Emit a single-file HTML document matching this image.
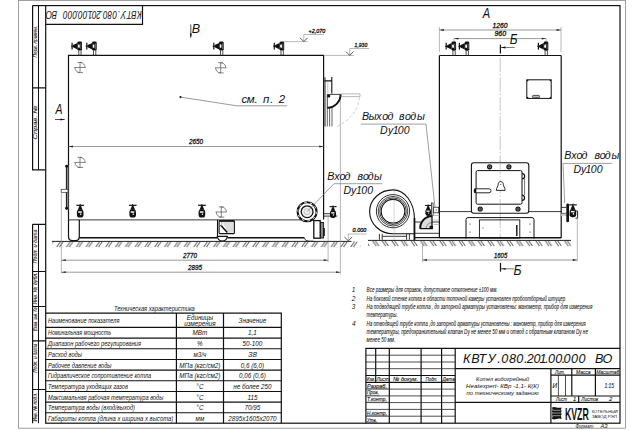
<!DOCTYPE html>
<html><head><meta charset="utf-8"><title>KVTU drawing</title>
<style>
html,body{margin:0;padding:0;background:#fff;width:644px;height:430px;overflow:hidden}
svg{display:block}
text{font-family:"Liberation Sans",sans-serif;font-style:italic;fill:#111}
.k{stroke:#111;stroke-width:1.2;fill:none}
.m{stroke:#222;stroke-width:0.9;fill:none}
.n{stroke:#555;stroke-width:0.6;fill:none}
.g{stroke:#888;stroke-width:0.6;fill:none}
.b{stroke:#111;stroke-width:0.3}
</style></head><body>
<svg width="644" height="430" viewBox="0 0 644 430">
<defs>
  <pattern id="hatch" width="9.8" height="5.8" patternUnits="userSpaceOnUse" x="6" y="241.4">
    <path d="M1.6,5.8 L5.6,0 M4.3,5.8 L8.3,0" stroke="#222" stroke-width="0.85"/>
  </pattern>
  <pattern id="hatchR" width="9.6" height="5.8" patternUnits="userSpaceOnUse" x="6" y="240.4">
    <path d="M1.5,0 L5.5,5.8 M4.2,0 L8.2,5.8" stroke="#222" stroke-width="0.85"/>
  </pattern>
  <g id="vt">
    <path d="M-1.1,-5 V0 M1.2,-5 V0" stroke="#222" stroke-width="0.8"/>
    <path d="M-2.5,-12.8 Q-2.5,-13.9 -1,-13.9 H0.8 Q2.1,-13.9 2.1,-12.6 V-6.2 Q2.1,-4.8 0.7,-4.8 H-1.1 Q-2.5,-4.8 -2.5,-6.2 Z" fill="#111"/>
    <path d="M-1.7,-11.3 Q-0.4,-9.3 -1.7,-7.3 Q-2.1,-9.3 -1.7,-11.3 Z" fill="#fff"/>
    <ellipse cx="-0.9" cy="-9.3" rx="0.8" ry="1.9" fill="#fff"/>
    <path d="M0.9,-12 V-6.4" stroke="#888" stroke-width="0.7"/>
    <path d="M-2.4,-12.4 L-6.9,-10.3 L-6.9,-8.1 L-2.4,-6 Z" fill="#111"/>
    <path d="M-8.9,-9.2 H-3" stroke="#111" stroke-width="1"/>
    <path d="M-7.8,-12.7 V-5.9" stroke="#111" stroke-width="1.2"/>
  </g>
  <g id="vb">
    <path d="M-3.8,-14.3 H3.9" stroke="#111" stroke-width="1.2"/>
    <path d="M0,-15.6 V-14" stroke="#111" stroke-width="0.9"/>
    <path d="M-0.6,-14 L0.6,-14 L2.4,-9.8 L-2.4,-9.8 Z" fill="#111"/>
    <rect x="-3.3" y="-10.3" width="6.6" height="8.3" rx="2.9" fill="#111"/>
    <rect x="-2" y="-8.3" width="3.6" height="1.5" fill="#fff"/>
    <circle cx="0.5" cy="-5.3" r="0.8" fill="#fff"/>
  </g>
  <g id="cg">
    <path d="M-2.5,-5.1 H2.2 M0,-5.1 A5.1,5.1 0 0 1 5.1,0 M-5.6,0 H5.6 M-5.1,0 A5.1,5.1 0 0 0 0,5.1 M-2.4,5.1 H3 M0,-5.3 V5.3" stroke="#666" stroke-width="0.8" fill="none"/>
  </g>
</defs>

<!-- ===== sheet frame ===== -->
<rect x="18.4" y="0.5" width="607" height="427.7" fill="none" stroke="#888" stroke-width="0.8"/>
<rect x="45.7" y="5.6" width="574.3" height="417.6" class="k"/>

<!-- left strip -->
<g class="k">
  <path d="M32.6,5.6 V169.8 H45.7 M32.6,87.8 H45.7"/>
  <path d="M32.6,224.3 V423.2 M32.6,224.3 H45.7 M32.6,271.5 H45.7 M32.6,306.5 H45.7 M32.6,340.8 H45.7 M32.6,389.5 H45.7"/>
  <path d="M32.6,5.6 H45.7"/>
</g>
<g class="m">
  <path d="M38.5,5.6 V169.8 M38.5,224.3 V423.2" stroke="#111" stroke-width="1"/>
</g>
<g font-size="5.4" fill="#111" stroke="#111" stroke-width="0.08">
  <text transform="translate(36.5,57.4) rotate(-90)" textLength="31.6" lengthAdjust="spacingAndGlyphs">Перв. примен.</text>
  <text transform="translate(36.5,139.5) rotate(-90)" textLength="34" lengthAdjust="spacingAndGlyphs">Справ. №</text>
  <text transform="translate(36.5,263.5) rotate(-90)" textLength="34" lengthAdjust="spacingAndGlyphs">Подп. и дата</text>
  <text transform="translate(36.5,304.4) rotate(-90)" textLength="32" lengthAdjust="spacingAndGlyphs">Инв. № дубл.</text>
  <text transform="translate(36.5,331) rotate(-90)" textLength="23.5" lengthAdjust="spacingAndGlyphs">Взам. инв. №</text>
  <text transform="translate(36.5,372.7) rotate(-90)" textLength="29" lengthAdjust="spacingAndGlyphs">Подп. и дата</text>
  <text transform="translate(36.5,421.5) rotate(-90)" textLength="28.5" lengthAdjust="spacingAndGlyphs">Инв. № подл.</text>
</g>

<!-- top-left inverted designation -->
<path d="M45.7,24.4 H142.5 V5.6" class="k"/>
<use href="#ttl" transform="translate(141.3,11) rotate(180) scale(0.642,0.88) translate(-463.6,-362.8)"/>

<!-- ===== LEFT VIEW (side) ===== -->
<!-- body -->
<path d="M68.5,219.8 V55.4 H323.6 V219.5" class="k"/>
<path d="M68.5,219.9 H314" class="m"/>
<!-- left foot -->
<path d="M68.5,219.8 V236.5 Q68.5,240.6 72.5,240.6 H75.5 Q79.3,240.6 79.3,236.5 V219.8" class="k"/>
<!-- skid line -->
<path d="M79.3,237.7 H217.3 M227.4,237.7 H304.4" stroke="#111" stroke-width="1.4"/>
<!-- middle foot/box -->
<path d="M217.5,219.8 V236.4" stroke="#111" stroke-width="1.1"/>
<path d="M222.5,221.8 H233.6 V232.8 H228 Z" fill="#ddd"/>
<rect x="219.1" y="220.8" width="15.3" height="12.8" rx="0.8" fill="none" stroke="#111" stroke-width="1.1"/>
<rect x="219.1" y="220.3" width="15.3" height="1.5" fill="#111"/>
<path d="M220.6,225 L227.3,232.6" stroke="#111" stroke-width="1.5"/>
<path d="M221.7,222 V226" stroke="#999" stroke-width="0.8"/>
<path d="M217.3,236.3 A5.05,4.7 0 0 0 227.4,236.3 Z" fill="#fff" stroke="#111" stroke-width="1.2"/>
<!-- right foot area -->
<path d="M304.4,238 Q305,241.2 309,241.2 H313.6" class="m"/>
<rect x="320.2" y="222.5" width="3.4" height="15.5" fill="#888" stroke="#111" stroke-width="0.9"/>
<rect x="313.8" y="220.6" width="6.4" height="17.6" fill="#fff" stroke="#111" stroke-width="1.3"/>
<rect x="323.4" y="228" width="1.4" height="8" fill="#111"/>
<!-- door on left wall -->
<rect x="66.4" y="165" width="2" height="44.6" fill="#888"/>
<path d="M66.4,165 V209.6" stroke="#111" stroke-width="1"/>
<circle cx="66.7" cy="166.2" r="1.45" fill="#111"/>
<circle cx="66.6" cy="208.3" r="1.45" fill="#111"/>
<rect x="61.2" y="189.3" width="6.8" height="3" fill="#fff" stroke="#333" stroke-width="0.7"/>
<!-- ground -->
<path d="M52,241.4 H351.4" stroke="#222" stroke-width="1"/>
<rect x="52.5" y="241.4" width="308" height="5.8" fill="url(#hatch)"/>

<!-- top valves left view -->
<use href="#vt" x="79.9" y="55.4"/>
<use href="#vt" x="94.6" y="55.4"/>
<use href="#vt" x="221.6" y="55.4"/>
<use href="#vt" x="282.1" y="55.4"/>
<!-- bottom valves -->
<use href="#vb" x="80.2" y="219.6"/>
<use href="#vb" x="132.7" y="219.6"/>
<use href="#vb" x="201.9" y="219.6"/>
<!-- centers of gravity -->
<use href="#cg" x="80" y="67.5"/>
<use href="#cg" x="220.7" y="67.8"/>
<use href="#cg" x="80" y="162.4"/>
<use href="#cg" x="221.3" y="212"/>

<!-- outlet at top right -->
<path d="M331.8,77.1 V93.4 M324.4,80.9 H331.8" stroke="#111" stroke-width="1.1" fill="none"/>
<path d="M327.8,81 V93" stroke="#999" stroke-width="0.6"/>
<path d="M327.3,94.4 H340.6 A13.3,13.3 0 0 1 327.3,107.7 Z" fill="#fff" stroke="#111" stroke-width="0.8"/>
<path d="M340.6,94.4 A13.3,13.3 0 0 1 327.3,107.7" fill="none" stroke="#111" stroke-width="1.9"/>
<circle cx="328.7" cy="96" r="1.6" fill="#111"/>
<path d="M325,77.3 V126.5" stroke="#111" stroke-width="0.9"/>
<path d="M340.6,93.9 H360 M340.6,96.6 H360 M360,93.9 V96.6" stroke="#999" stroke-width="0.7" fill="none"/>
<path d="M327.3,107.7 V126.5 M329.6,108 V126.5 M332,107 V126.5" stroke="#222" stroke-width="0.7"/>
<path d="M359.5,97.5 Q357,117 336,127" stroke="#aaa" stroke-width="0.6" fill="none" stroke-dasharray="3,2"/>

<!-- inlet flange -->
<circle cx="307.1" cy="211.7" r="9.5" fill="#fff" stroke="#111" stroke-width="2.1"/>
<circle cx="307.1" cy="211.7" r="9.3" fill="none" stroke="#fff" stroke-width="0.9" stroke-dasharray="2.5,3.3"/>
<circle cx="307.1" cy="211.7" r="5.3" fill="#eee"/>
<circle cx="307.1" cy="211.7" r="5.9" fill="none" stroke="#111" stroke-width="1.3"/>
<circle cx="307.1" cy="211.7" r="3" fill="none" stroke="#999" stroke-width="0.5"/>
<!-- right pipe + valve -->
<path d="M323.6,213.7 H331 M323.6,216.1 H337.4" class="m"/>
<g transform="translate(333,219.8) scale(0.92)"><use href="#vb"/></g>

<!-- dims: 2650 -->
<path d="M68.5,146.5 H323.6" class="n"/>
<path d="M68.7,146.5 l4.2,-0.9 v1.8 Z M323.4,146.5 l-4.2,-0.9 v1.8 Z" fill="#222"/>
<text class="b" x="189" y="144.4" font-size="7.8" textLength="14" lengthAdjust="spacingAndGlyphs">2650</text>

<!-- extension lines -->
<path d="M61.4,190 V273.6 M328.1,216.5 V262 M340.4,100 V274.4" class="g"/>
<!-- dims 2770 2895 -->
<path d="M61.4,260.2 H328.1 M61.4,272.2 H340.4" class="n"/>
<path d="M61.6,260.2 l4.2,-0.9 v1.8 Z M327.9,260.2 l-4.2,-0.9 v1.8 Z M61.6,272.2 l4.2,-0.9 v1.8 Z M340.2,272.2 l-4.2,-0.9 v1.8 Z" fill="#222"/>
<text class="b" x="183" y="257.7" font-size="7.8" textLength="14" lengthAdjust="spacingAndGlyphs">2770</text>
<text class="b" x="188" y="269.8" font-size="7.8" textLength="14" lengthAdjust="spacingAndGlyphs">2895</text>

<!-- level marks -->
<path d="M284,41.6 H307.8 M303.8,41.6 V34.5 H324" class="g"/><path d="M300,37.8 L303.8,41.6 L307.6,37.8" stroke="#333" stroke-width="0.8" fill="none"/>
<text class="b" x="308.6" y="33.4" font-size="6.2" textLength="16.6" lengthAdjust="spacingAndGlyphs">+2,070</text>
<path d="M323.6,55.4 H353.8 M349.7,55.4 V48.5 H369.2" class="g"/><path d="M345.9,51.6 L349.7,55.4 L353.5,51.6" stroke="#333" stroke-width="0.8" fill="none"/>
<text class="b" x="354.6" y="46.6" font-size="6.2" textLength="12.6" lengthAdjust="spacingAndGlyphs">1,930</text>
<path d="M348.3,240.8 V234 H366.7" class="g"/><path d="M344.4,237 L348.3,240.8 L352.2,237" stroke="#333" stroke-width="0.8" fill="none"/>
<text class="b" x="352.6" y="232.3" font-size="6.2" textLength="13.6" lengthAdjust="spacingAndGlyphs">0.000</text>

<!-- view marks -->

<path d="M55,119.5 H64.6" stroke="#222" stroke-width="0.8"/>
<path d="M64.8,119.5 l-4.4,-1 v2 Z" fill="#111"/>

<path d="M190.8,24.5 V37.5" stroke="#222" stroke-width="0.8"/>
<path d="M190.8,38 l-1,-4.4 h2 Z" fill="#111"/>

<!-- см. п. 2 -->
<circle cx="180.5" cy="97.1" r="1.1" fill="#111"/>
<path d="M180.5,97.1 L236.7,105.8 H287.2" class="n"/>


<!-- labels -->

<path d="M360.7,124.1 H426 L435.6,213" stroke="#777" stroke-width="0.7" fill="none"/>


<path d="M382.2,183.7 H334 L307.1,211.7" stroke="#777" stroke-width="0.7" fill="none"/>


<path d="M612.2,163.4 H563 L564.7,203" stroke="#777" stroke-width="0.7" fill="none"/>


<!-- ===== FRONT VIEW (right) ===== -->

<path d="M439.4,55.5 V238 M561.2,55.5 V238 M439.4,55.5 H561.2" class="k"/>
<path d="M439.4,211.6 H561.2" class="m"/>
<path d="M500.2,58 V238" stroke="#888" stroke-width="0.5" stroke-dasharray="14,2,1.5,2"/>
<!-- dims 1260 / 960 -->
<path d="M439.4,52 V27 M561,52 V27" class="g"/>
<path d="M439.4,30 H561 M454,38.6 H546.2" class="n"/>
<path d="M439.6,30 l4.2,-0.9 v1.8 Z M560.8,30 l-4.2,-0.9 v1.8 Z M454.2,38.6 l4.2,-0.9 v1.8 Z M546,38.6 l-4.2,-0.9 v1.8 Z" fill="#222"/>
<path d="M454,38.6 V45 M546.2,38.6 V45" class="g"/>
<text class="b" x="492.5" y="27.6" font-size="7.2" textLength="15" lengthAdjust="spacingAndGlyphs">1260</text>
<text class="b" x="494.5" y="36.2" font-size="7.2" textLength="11.5" lengthAdjust="spacingAndGlyphs">960</text>
<!-- Б section -->
<path d="M500.4,44.8 V53.5" stroke="#111" stroke-width="1.2"/>
<path d="M500.4,47.5 H514.7" stroke="#444" stroke-width="0.7"/><path d="M500.9,47.5 l4.6,-0.9 v1.8 Z" fill="#111"/>


<use href="#vt" x="454" y="55.5"/>
<use href="#vt" x="467.2" y="55.5"/>
<use href="#vt" x="546.2" y="55.5"/>
<!-- nameplate -->
<rect x="526.8" y="79.8" width="24.4" height="18.6" fill="none" stroke="#111" stroke-width="1"/>
<g fill="#111"><circle cx="527.6" cy="80.6" r="0.8"/><circle cx="550.4" cy="80.6" r="0.8"/><circle cx="527.6" cy="97.6" r="0.8"/><circle cx="550.4" cy="97.6" r="0.8"/></g>
<rect x="532.4" y="95.4" width="7.2" height="2.4" rx="1" fill="#bbb" stroke="#111" stroke-width="0.7"/>
<!-- door frame -->
<rect x="471.4" y="162.7" width="57.4" height="50.6" rx="2.5" fill="#fff" stroke="#111" stroke-width="1.1"/>
<rect x="476.1" y="170.6" width="45.9" height="33.6" rx="1.5" fill="none" stroke="#111" stroke-width="1"/>
<circle cx="489.6" cy="166.8" r="2.6" fill="#111"/><circle cx="489.6" cy="166.8" r="1.5" fill="#888"/><circle cx="489.6" cy="166.8" r="0.8" fill="#111"/>
<circle cx="508.9" cy="166.8" r="2.6" fill="#111"/><circle cx="508.9" cy="166.8" r="1.5" fill="#888"/><circle cx="508.9" cy="166.8" r="0.8" fill="#111"/>
<circle cx="480.2" cy="209" r="2.6" fill="#111"/><circle cx="480.2" cy="209" r="1.5" fill="#888"/><circle cx="480.2" cy="209" r="0.8" fill="#111"/>
<circle cx="518" cy="209" r="2.6" fill="#111"/><circle cx="518" cy="209" r="1.5" fill="#888"/><circle cx="518" cy="209" r="0.8" fill="#111"/>
<path d="M522,173.6 A2.6,2.6 0 0 1 522,178.8 M522,195.2 A2.6,2.6 0 0 1 522,200.4" stroke="#111" stroke-width="1.2" fill="none"/>
<path d="M524.6,178.8 V195.2" stroke="#555" stroke-width="0.8"/>
<rect x="474.1" y="188.8" width="16.9" height="4" rx="2" fill="#fff" stroke="#111" stroke-width="0.9"/>
<rect x="474.1" y="188.6" width="2.2" height="4.4" fill="#111"/>
<path d="M500.2,160 V214" stroke="#999" stroke-width="0.5" stroke-dasharray="14,2,1.5,2"/>
<path d="M496.4,190.4 H505.1 C505.1,187.5 503.3,186.5 503.3,184.3 C503.3,182.7 502.2,181.6 500.75,181.6 C499.3,181.6 498.2,182.7 498.2,184.3 C498.2,186.5 496.4,187.5 496.4,190.4 Z" fill="#fff" stroke="#111" stroke-width="0.9"/>
<circle cx="500.75" cy="184.6" r="0.5" fill="#111"/>
<!-- base -->
<path d="M466,238.6 V219.5 Q466,217.6 468,217.6 H532 Q534,217.6 534,219.5 V238.6" fill="none" stroke="#111" stroke-width="1"/>
<rect x="479.4" y="219.9" width="40.4" height="18.2" fill="none" stroke="#111" stroke-width="0.9"/>
<path d="M516.8,225 V236" stroke="#111" stroke-width="1.4"/>
<g fill="#111"><circle cx="470" cy="224" r="0.6"/><circle cx="470" cy="232" r="0.6"/><circle cx="530" cy="224" r="0.6"/><circle cx="530" cy="232" r="0.6"/><circle cx="483" cy="228" r="0.5"/></g>
<path d="M439.4,237.8 H561.2" stroke="#111" stroke-width="1.4"/>
<!-- right inlet valve -->
<path d="M561.2,207.4 H566.3 M561.2,213.4 H566.3" class="m"/>
<rect x="561.2" y="213.6" width="15" height="2.4" fill="#ccc"/>
<rect x="566.3" y="203.6" width="2.7" height="18.6" rx="1.3" fill="#111"/>
<use href="#vb" x="572.9" y="219.2"/>
<path d="M575.5,211 H577.6 V218.2 H575.5" stroke="#111" stroke-width="0.9" fill="none"/>


<!-- fan -->
<path d="M414.4,240 V218.6 C414.4,202.7 404.8,189.9 393,189.9 C380.1,189.9 369.6,199.6 369.6,211.5 C369.6,223.8 380.1,233.8 393,233.8 H414.4" fill="#fff" stroke="#111" stroke-width="1.1"/>
<path d="M414.5,218 V240" stroke="#111" stroke-width="1.7"/>
<g fill="none" stroke="#111">
<circle cx="393" cy="211.2" r="16.6" stroke-width="0.9"/>
<circle cx="393" cy="211.2" r="14.8" stroke-width="0.8"/>
<circle cx="393" cy="211.2" r="13.3" stroke-width="0.8"/>
<circle cx="393" cy="211.2" r="11.8" stroke-width="1.1"/>
</g>
<path d="M379.4,233.8 V239.8 M382.2,233.8 V239.8 M406.6,233.8 V239.8 M409.4,233.8 V239.8 M382.2,236.3 H406.6" class="m"/>
<path d="M394.1,188 V240" stroke="#999" stroke-width="0.4"/>
<!-- connection between fan and boiler -->
<path d="M414.6,222 H439.4 M414.6,233.3 H439.4" stroke="#222" stroke-width="0.9"/>
<path d="M414.6,237.6 H439.4" stroke="#111" stroke-width="1.2"/>
<path d="M433.7,215.5 H439.4 M433.7,220 H439.4 M433.7,224.5 H439.4" stroke="#999" stroke-width="0.6"/>
<path d="M420.2,228.7 A12.3,12.3 0 0 1 432,215.9 V228.7 Z" fill="#ddd"/>
<path d="M420.2,228.7 A12.3,12.3 0 0 1 432,215.9" stroke="#111" stroke-width="2" fill="none"/>
<path d="M426,228.7 A6,6 0 0 1 432,222.6" stroke="#666" stroke-width="0.7" fill="none"/>
<path d="M432,215.9 V228.7 H420.2" stroke="#111" stroke-width="1.3" fill="none"/>
<rect x="429.6" y="225.8" width="3.4" height="3.2" fill="#111"/>
<g transform="translate(428.2,217.6) scale(0.85)"><use href="#vb"/></g>
<rect x="431.4" y="203" width="1.7" height="12.4" fill="#fff" stroke="#111" stroke-width="0.7"/>
<rect x="433.7" y="207.2" width="5" height="5.6" fill="#fff" stroke="#111" stroke-width="0.7"/>
<circle cx="436.2" cy="210" r="0.6" fill="#111"/>
<!-- front view ground -->
<path d="M368,240.4 H571" stroke="#222" stroke-width="1"/>
<rect x="368" y="240.4" width="203" height="5.8" fill="url(#hatchR)"/>

<!-- dim 1605 -->
<path d="M422.5,244 V262 M577.3,217 V261.5" class="g"/>
<path d="M422.5,260 H577.2" class="n"/>
<path d="M422.7,260 l4.2,-0.9 v1.8 Z M577,260 l-4.2,-0.9 v1.8 Z" fill="#222"/>
<text class="b" x="494" y="257.7" font-size="7.8" textLength="13.2" lengthAdjust="spacingAndGlyphs">1605</text>
<!-- Б bottom -->
<path d="M500.5,262.9 V271.6" stroke="#111" stroke-width="1.2"/>
<path d="M500.5,268.8 H514" stroke="#444" stroke-width="0.7"/><path d="M501,268.8 l4.6,-0.9 v1.8 Z" fill="#111"/>



<!-- ===== NOTES ===== -->
<g font-size="6.4" fill="#333">
  <text x="351.7" y="292.4">1</text>
  <text x="351.7" y="300.6">2</text>
  <text x="351.7" y="308.8">3</text>
  <text x="351.9" y="325.5">4</text>
</g>
<g font-size="7" fill="#1a1a1a" stroke="#1a1a1a" stroke-width="0.08">
  <text x="366.6" y="292.4" textLength="131" lengthAdjust="spacingAndGlyphs">Все размеры для справок, допустимое отклонение  ±100 мм.</text>
  <text x="366.6" y="300.6" textLength="198.6" lengthAdjust="spacingAndGlyphs">На боковой стенке котла в области топочной камеры установлен пробоотборный штуцер</text>
  <text x="366.6" y="308.8" textLength="225.8" lengthAdjust="spacingAndGlyphs">На   подводящей трубе котла , до запорной арматуры установлены:  манометр, прибор для измерения</text>
  <text x="366.6" y="317.1" textLength="31" lengthAdjust="spacingAndGlyphs">температуры.</text>
  <text x="366.6" y="325.5" textLength="219" lengthAdjust="spacingAndGlyphs">На отводящей трубе котла ,до запорной арматуры установлены : манометр,  прибор для измерения</text>
  <text x="366.6" y="333.9" textLength="221.4" lengthAdjust="spacingAndGlyphs">температуры, предохранительный клапан  Dу не менее  50 мм и отвод с обратным клапаном  Dу не</text>
  <text x="366.6" y="342.2" textLength="28.6" lengthAdjust="spacingAndGlyphs">менее  50 мм.</text>
</g>

<!-- ===== TECH TABLE ===== -->
<text x="113.9" y="310.9" font-size="6.4" textLength="80.9" lengthAdjust="spacingAndGlyphs">Техническая характеристика</text>
<g class="k">
  <path d="M45.7,313.1 H281.3 V423.2 M176.4,313.1 V423.2 M223.5,313.1 V423.2"/>
  <path d="M45.7,327.4 H281.3"/>
</g>
<g stroke="#111" stroke-width="1.05">
  <path d="M45.7,338.1 H281.3 M45.7,348.8 H281.3 M45.7,359.4 H281.3 M45.7,370.1 H281.3 M45.7,380.8 H281.3 M45.7,391.4 H281.3 M45.7,402.1 H281.3 M45.7,412.8 H281.3"/>
</g>
<g font-size="6.3">
  <text x="48" y="323" textLength="71.4" lengthAdjust="spacingAndGlyphs">Наименование показателя</text>
  <text x="48" y="335.4" textLength="63" lengthAdjust="spacingAndGlyphs">Номинальная мощность</text>
  <text x="48" y="346.1" textLength="93" lengthAdjust="spacingAndGlyphs">Диапазон рабочего регулирования</text>
  <text x="48" y="356.8" textLength="34" lengthAdjust="spacingAndGlyphs">Расход воды</text>
  <text x="48" y="367.5" textLength="63.5" lengthAdjust="spacingAndGlyphs">Рабочее давление воды</text>
  <text x="48" y="378.2" textLength="103" lengthAdjust="spacingAndGlyphs">Гидравлическое сопротивление котла</text>
  <text x="48" y="388.9" textLength="80" lengthAdjust="spacingAndGlyphs">Температура уходящих газов</text>
  <text x="48" y="399.5" textLength="115.3" lengthAdjust="spacingAndGlyphs">Максимальная рабочая температура воды</text>
  <text x="48" y="410.2" textLength="87" lengthAdjust="spacingAndGlyphs">Температура воды (вход/выход)</text>
  <text x="48" y="420.9" textLength="125.3" lengthAdjust="spacingAndGlyphs">Габариты котла (длина х ширина х высота)</text>
</g>
<g font-size="6.3" text-anchor="middle">
  <text x="199.9" y="319.5">Единицы</text>
  <text x="199.9" y="325.6">измерения</text>
  <text x="252.4" y="323">Значение</text>
  <text x="199.9" y="335.4">МВт</text>
  <text x="252.4" y="335.4">1,1</text>
  <text x="199.9" y="346.1">%</text>
  <text x="252.4" y="346.1">50-100</text>
  <text x="199.9" y="356.8">м3/ч</text>
  <text x="252.4" y="357.4" font-size="8">38</text>
  <text x="199.9" y="367.5">МПа (кгс/см2)</text>
  <text x="252.4" y="367.5">0,6 (6,0)</text>
  <text x="199.9" y="378.2">МПа (кгс/см2)</text>
  <text x="252.4" y="378.2">0,06 (0,6)</text>
  <text x="199.9" y="388.9">°С</text>
  <text x="252.4" y="388.9">не более 250</text>
  <text x="199.9" y="399.5">°С</text>
  <text x="252.4" y="399.5">115</text>
  <text x="199.9" y="410.2">°С</text>
  <text x="252.4" y="410.2">70/95</text>
  <text x="199.9" y="420.9">мм</text>
  <text x="252.4" y="420.9">2895х1605х2070</text>
</g>

<!-- ===== TITLE BLOCK ===== -->
<g class="k">
  <path d="M365.9,423.2 V348.4 H620"/>
  <path d="M375.7,348.4 V382.3 M389.3,348.4 V423.2 M421.1,348.4 V423.2 M441.6,348.4 V423.2 M455.2,348.4 V423.2"/>
  <path d="M365.9,375.5 H455.2 M365.9,382.3 H455.2"/>
  <path d="M455.2,368.7 H620 M455.2,402.4 H620 M550.9,368.7 V423.2"/>
  <path d="M550.9,375.1 H620 M550.9,396 H620 M571.8,368.7 V396 M595.4,368.7 V396 M578.7,396 V402.4"/>
</g>
<g stroke="#222" stroke-width="0.8">
  <path d="M365.9,355.2 H455.2 M365.9,362 H455.2 M365.9,368.7 H455.2"/>
  <path d="M365.9,389.1 H455.2 M365.9,395.9 H455.2 M365.9,402.6 H455.2 M365.9,409.4 H455.2 M365.9,416.2 H455.2"/>
  <path d="M558.4,375.1 V396 M565.5,375.1 V396"/>
</g>
<g font-size="6" stroke="#111" stroke-width="0.12">
  <text x="366.6" y="380.6" textLength="8.6" lengthAdjust="spacingAndGlyphs">Изм.</text>
  <text x="376.4" y="380.6" textLength="12.4" lengthAdjust="spacingAndGlyphs">Лист</text>
  <text x="393" y="380.6" textLength="25" lengthAdjust="spacingAndGlyphs">№ докум.</text>
  <text x="425.5" y="380.6" textLength="12" lengthAdjust="spacingAndGlyphs">Подп.</text>
  <text x="442.4" y="380.6" textLength="12.4" lengthAdjust="spacingAndGlyphs">Дата</text>
  <text x="367" y="387.6" textLength="20" lengthAdjust="spacingAndGlyphs">Разраб.</text>
  <text x="367" y="394.4" textLength="12" lengthAdjust="spacingAndGlyphs">Пров.</text>
  <text x="367" y="401.2" textLength="20" lengthAdjust="spacingAndGlyphs">Т.контр.</text>
  <text x="367" y="414.8" textLength="20" lengthAdjust="spacingAndGlyphs">Н.контр.</text>
  <text x="367" y="421.6" textLength="10" lengthAdjust="spacingAndGlyphs">Утв.</text>
</g>
<path d="M367,388.4 H387.5 M367,395.2 H379.5 M367,402 H387.5 M367,415.6 H387.5 M367,422.4 H377.5" stroke="#333" stroke-width="0.5"/>
<text id="ttl" x="462.9 471.2 478.5 487.5 497.3 501.3 509.1 516.3 524.0 526.7 533.4 539.5 545.3 547.9 555.2 561.8 563.6 571.0 578.5 595.0 602.6" y="362.7" font-size="12.6">КВТУ.080.201.00.000ВО</text>
<g font-size="6" text-anchor="middle">
  <text x="502.6" y="380.6" textLength="53" lengthAdjust="spacingAndGlyphs">Котел водогрейный</text>
  <text x="502.6" y="387.6" textLength="73" lengthAdjust="spacingAndGlyphs">Heatexpert- КВр -1,1- К(К)</text>
  <text x="502.6" y="394.6" textLength="72" lengthAdjust="spacingAndGlyphs">по техническому заданию</text>
</g>
<g font-size="5.8" stroke="#111" stroke-width="0.1">
  <text x="555" y="373.8" textLength="10" lengthAdjust="spacingAndGlyphs">Лит.</text>
  <text x="576" y="373.8" textLength="14.5" lengthAdjust="spacingAndGlyphs">Масса</text>
  <text x="596.2" y="373.8" textLength="23" lengthAdjust="spacingAndGlyphs">Масштаб</text>
  <text x="552.4" y="387.8" font-size="6.4">И</text>
  <text x="604.4" y="388" font-size="6.6" textLength="9.6" lengthAdjust="spacingAndGlyphs">1:15</text>
  <text x="556" y="401" textLength="11" lengthAdjust="spacingAndGlyphs">Лист</text>
  <text x="573" y="401">1</text>
  <text x="581.3" y="401" textLength="17" lengthAdjust="spacingAndGlyphs">Листов</text>
  <text x="609" y="401">2</text>
</g>
<!-- logo -->
<g>
  <path d="M552,407.4 Q554,406.6 556.5,407.4 Q559,408.2 561.6,407.4 L561,409.6 Q562.2,411 561,412.6 Q562.2,414.2 561,415.8 L561.6,419 Q559,418.2 556.5,419 Q554,419.8 552,419 L552.6,416 Q551.4,414.4 552.6,413 Q551.4,411.4 552.6,409.8 Z" fill="#111"/>
  <path d="M553,410.3 H560.6 M553,413 H560.6 M553,415.7 H560.6" stroke="#fff" stroke-width="0.55"/>
  <text x="564.9" y="419.5" font-size="16.9" style="font-style:normal" font-weight="bold" textLength="23.9" lengthAdjust="spacingAndGlyphs">KVZR</text>
  <text x="591.7" y="412.8" font-size="4.3" style="font-style:normal" fill="#222" textLength="26.2" lengthAdjust="spacingAndGlyphs">КОТЕЛЬНЫЙ</text>
  <text x="591.7" y="418.2" font-size="4.3" style="font-style:normal" fill="#222" textLength="25.3" lengthAdjust="spacingAndGlyphs">ЗАВОД  РЭП</text>
</g>
<text x="575.5" y="427.6" font-size="5.8" textLength="18" lengthAdjust="spacingAndGlyphs">Формат</text>
<text x="600.5" y="427.6" font-size="5.8">А3</text>
<!--GEN-->
<text x="241.5 246.73 254.44 263.03 270.34 278.86" y="103" font-size="11.5">см.п.2</text>
<text x="361.98 368.69 376.33 382.13 387.53 399.09 404.93 410.33 416.99" y="120" font-size="10.7">Выходводы</text>
<text x="379.98 387.88 392.82 397.73 403.73" y="133.5" font-size="10.5">Dy100</text>
<text x="327.18 334.33 339.53 344.53 357.59 362.93 367.83 373.99" y="180.1" font-size="10.7">Входводы</text>
<text x="343.58 350.88 356.03 361.33 367.23" y="193.6" font-size="10.5">Dy100</text>
<text x="564.18 571.13 576.53 581.53 594.59 599.83 604.83 611.49" y="159.4" font-size="10.7">Входводы</text>
<text x="573.58 580.98 585.62 590.83 596.83" y="172.9" font-size="10.5">Dy100</text>
<!--/GEN-->
<text transform="translate(482.85,18.4) scale(0.745,1)" font-size="14.9">А</text>
<text transform="translate(55.6,113.5) scale(0.745,1)" font-size="14.2">А</text>
<text transform="translate(191.8,32.7) scale(0.96,1)" font-size="13.1">В</text>
<text transform="translate(509.8,44.3) scale(0.84,1)" font-size="14.3">Б</text>
<text transform="translate(513.6,274.7) scale(0.86,1)" font-size="14.3">Б</text>

</svg>
</body></html>
